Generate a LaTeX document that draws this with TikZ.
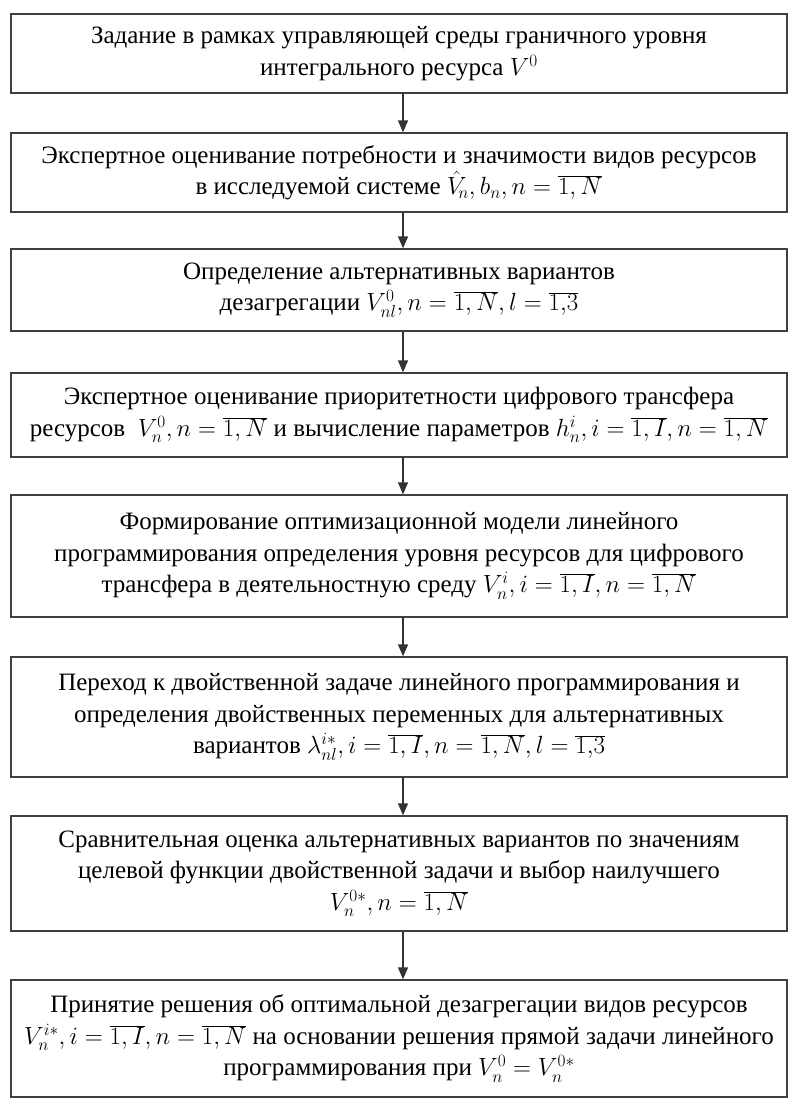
\documentclass[tikz,border=0pt]{standalone}
\usepackage{fontspec}
\setmainfont{Liberation Serif}
\usetikzlibrary{arrows.meta}
\definecolor{boxgray}{HTML}{404040}
\definecolor{arrgray}{HTML}{333333}
\begin{document}
\begin{tikzpicture}[
  stepbox/.style={draw=boxgray, line width=1.3pt, minimum width=776pt, align=center,
    inner sep=0pt, text=black, font=\fontsize{25}{31.5}\selectfont},
  flow/.style={draw=arrgray, line width=1.3pt, -{Triangle[length=12pt,width=10pt]}}
]
\useasboundingbox (0pt,0pt) rectangle (797pt,-1106pt);
\node[stepbox, minimum height=79pt] (b1) at (399pt,-53.5pt)
  {Задание в рамках управляющей среды граничного уровня\\ интегрального ресурса $V^0$};
\node[stepbox, minimum height=79pt] (b2) at (399pt,-172.5pt)
  {Экспертное оценивание потребности и значимости видов ресурсов\\ в исследуемой системе $\hat{V}_{\!n}, b_n, n=\overline{1,N}$};
\node[stepbox, minimum height=82pt] (b3) at (399pt,-290pt)
  {Определение альтернативных вариантов\\ дезагрегации $V_{nl}^0, n=\overline{1,N}, l=\overline{1{,}3}$};
\node[stepbox, minimum height=84pt] (b4) at (399pt,-415pt)
  {Экспертное оценивание приоритетности цифрового трансфера\\ ресурсов\ \ $V_n^0, n=\overline{1,N}$ и вычисление параметров $h_n^i, i=\overline{1,I}, n=\overline{1,N}$};
\node[stepbox, minimum height=122pt] (b5) at (399pt,-556pt)
  {Формирование оптимизационной модели линейного\\ программирования определения уровня ресурсов для цифрового\\ трансфера в деятельностную среду $V_n^i, i=\overline{1,I}, n=\overline{1,N}$};
\node[stepbox, minimum height=120pt] (b6) at (399pt,-717pt)
  {Переход к двойственной задаче линейного программирования и\\ определения двойственных переменных для альтернативных\\ вариантов $\lambda_{nl}^{i*}, i=\overline{1,I}, n=\overline{1,N}, l=\overline{1{,}3}$};
\node[stepbox, minimum height=115pt] (b7) at (399pt,-873.5pt)
  {Сравнительная оценка альтернативных вариантов по значениям\\ целевой функции двойственной задачи и выбор наилучшего\\ $V_n^{0*}, n=\overline{1,N}$};
\node[stepbox, minimum height=117pt] (b8) at (399pt,-1038.5pt)
  {Принятие решения об оптимальной дезагрегации видов ресурсов\\ $V_n^{i*}, i=\overline{1,I}, n=\overline{1,N}$ на основании решения прямой задачи линейного\\ программирования при $V_n^0=V_n^{0*}$};
\foreach \a/\b in {b1/b2,b2/b3,b3/b4,b4/b5,b5/b6,b6/b7,b7/b8}
  \draw[flow] ([xshift=4pt]\a.south) -- ([xshift=4pt]\b.north);
\end{tikzpicture}
\end{document}
